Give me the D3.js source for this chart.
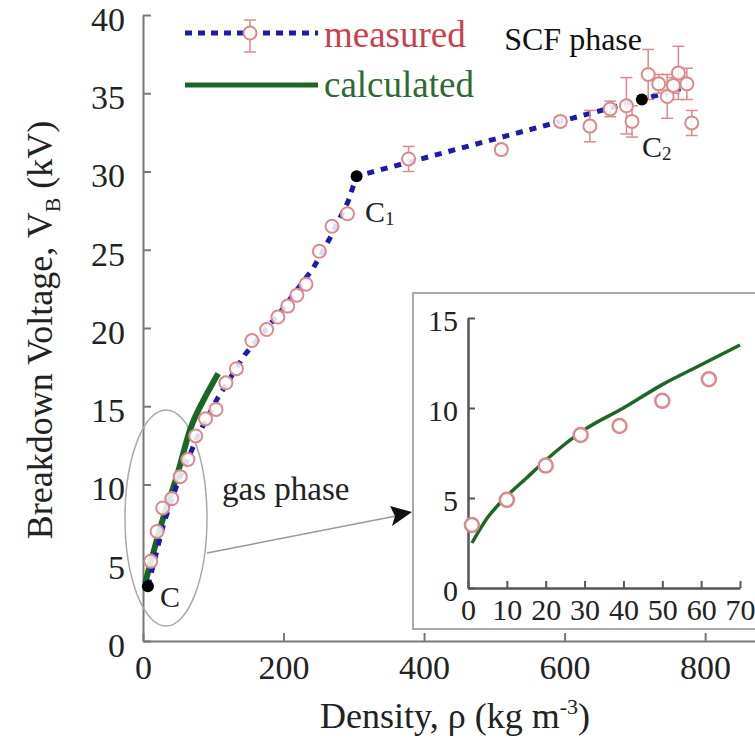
<!DOCTYPE html>
<html><head><meta charset="utf-8">
<script src="https://cdn.jsdelivr.net/npm/d3@7"></script>
<style>
@font-face{font-family:"RefSerif";src:local("Liberation Serif"),local("LiberationSerif-Regular"),local("Tinos"),local("Times New Roman");}
body{margin:0;background:#fff}
</style>
</head><body>
<svg id="c" width="755" height="755"></svg>
<script>
// ---- data ----
const xTicks = [0, 200, 400, 600, 800];
const yTicks = [0, 5, 10, 15, 20, 25, 30, 35, 40];
const measRho = [11,20,28,41,53,64,75,89,104,118,133,155,176,192,206,219,232,251,269,291,378,510,594,636,665,688,696,719,734,746,755,762,774,781];
const measVB  = [5.1,7.0,8.5,9.1,10.5,11.6,13.1,14.2,14.8,16.5,17.4,19.2,19.9,20.7,21.4,22.1,22.8,24.9,26.5,27.3,30.8,31.4,33.2,32.9,34.0,34.2,33.2,36.2,35.6,34.8,35.5,36.3,35.6,33.1];
const measErr = [0,0,0,0,0,0,0,0,0,0,0,0,0,0,0,0,0,0,0,0,0.8,0.3,0.3,1.0,0.5,1.8,1.0,1.6,0.6,1.4,0.5,1.7,1.0,0.8];
const fitRho = [7,30,50,80,106,145,195,242,268,292,304,710,765];
const fitVB  = [3.5,7.6,10.2,13.3,15.5,18.3,21.0,23.8,25.9,28.1,29.7,34.6,35.3];
const calcRho = [3,29,48,67,91,107];
const calcVB  = [3.7,7.9,10.5,13.5,15.8,17.1];
const critRho = [7,304,710];
const critVB  = [3.5,29.7,34.6];
const critLbl = ["C","C","C"];
const critSub = ["","1","2"];
// inset
const inXTicks = [0,10,20,30,40,50,60,70];
const inYTicks = [0,5,10,15];
const inMeasX = [1,10,20,29,39,50,62];
const inMeasY = [3.5,4.9,6.8,8.5,9.0,10.4,11.6];
const inCalcX = [1,5,10,15,20,30,40,50,60,70];
const inCalcY = [2.5,3.9,5.1,6.1,7.1,8.8,10.0,11.3,12.4,13.5];

const FONT = "'Liberation Serif', RefSerif, monospace";
const svg = d3.select("#c");
const AX = "#777", RED = "#d98a8e", BLUE = "#1c1ca8", GREEN = "#1e6626";

const x = d3.scaleLinear().domain([0, 871]).range([143, 755]);
const y = d3.scaleLinear().domain([0, 40]).range([641, 15]);

function styleAxis(g, col, w, fs) {
  g.attr("font-family", null).attr("font-size", null);
  g.select(".domain").attr("stroke", col).attr("stroke-width", w);
  g.selectAll(".tick line").attr("stroke", col).attr("stroke-width", 2);
  g.selectAll(".tick text").attr("fill", "#222").style("font-family", FONT).style("font-size", fs + "px");
}

// axes
const gx = svg.append("g").attr("transform", "translate(0,641)")
  .call(d3.axisBottom(x).tickValues(xTicks).tickSizeInner(-8).tickSizeOuter(0).tickPadding(14));
const gy = svg.append("g").attr("transform", "translate(143,0)")
  .call(d3.axisLeft(y).tickValues(yTicks).tickSizeInner(-8).tickSizeOuter(0).tickPadding(18));
styleAxis(gx, AX, 2, 34);
styleAxis(gy, AX, 2, 34);
gy.selectAll(".tick text").attr("dy", "0.45em");

function T(xp, yp, fs, fill) {
  return svg.append("text").attr("x", xp).attr("y", yp).style("font-family", FONT).style("font-size", fs + "px").attr("fill", fill);
}

// axis titles
svg.append("text").attr("transform", "translate(52,330) rotate(-90)").attr("text-anchor", "middle")
  .style("font-family", FONT).style("font-size", "36px").attr("fill", "#222")
  .html('Breakdown Voltage, V<tspan dy="8" style="font-size:22px">B</tspan><tspan dy="-8"> (kV)</tspan>');
T(455, 728, 36, "#222").attr("text-anchor", "middle")
  .html('Density, ρ (kg m<tspan dy="-14" style="font-size:22px">-3</tspan><tspan dy="14">)</tspan>');

// ellipse + arrow
svg.append("ellipse").attr("cx", 166).attr("cy", 518).attr("rx", 41).attr("ry", 108)
  .attr("fill", "none").attr("stroke", "#aaa").attr("stroke-width", 1.5);
svg.append("line").attr("x1", 207).attr("y1", 553).attr("x2", 396).attr("y2", 516)
  .attr("stroke", "#999").attr("stroke-width", 1.5);
svg.append("path").attr("d", "M412,512 L390,506 L395,516 L392,526 Z").attr("fill", "#111");
T(222, 500, 33, "#222").text("gas phase");

// calculated line (main)
const calcPts = calcRho.map((r, i) => [x(r), y(calcVB[i])]);
svg.append("path").attr("d", d3.line().curve(d3.curveMonotoneX)(calcPts))
  .attr("fill", "none").attr("stroke", GREEN).attr("stroke-width", 6);

// fit dashed line
const fitPts = fitRho.map((r, i) => [x(r), y(fitVB[i])]);
svg.append("path").attr("d", d3.line().curve(d3.curveLinear)(fitPts))
  .attr("fill", "none").attr("stroke", BLUE).attr("stroke-width", 5).attr("stroke-dasharray", "7 7");

// error bars
const eg = svg.append("g");
measRho.forEach((r, i) => {
  if (!measErr[i]) return;
  const cx = x(r), y1 = y(measVB[i] - measErr[i]), y2 = y(measVB[i] + measErr[i]);
  eg.append("line").attr("x1", cx).attr("x2", cx).attr("y1", y1).attr("y2", y2).attr("stroke", RED).attr("stroke-width", 1.5);
  [y1, y2].forEach(yy => eg.append("line").attr("x1", cx - 6).attr("x2", cx + 6).attr("y1", yy).attr("y2", yy).attr("stroke", RED).attr("stroke-width", 1.5));
});
// measured markers
svg.append("g").selectAll("circle").data(measRho).join("circle")
  .attr("cx", d => x(d)).attr("cy", (d, i) => y(measVB[i])).attr("r", 6.5)
  .attr("fill", "#fff").attr("fill-opacity", 0.85).attr("stroke", RED).attr("stroke-width", 2);

// critical points
svg.append("g").selectAll("circle").data(critRho).join("circle")
  .attr("cx", d => x(d)).attr("cy", (d, i) => y(critVB[i])).attr("r", 6).attr("fill", "#000");
const lblPos = [[160, 607], [365, 222], [642, 157]];
critLbl.forEach((l, i) => {
  T(lblPos[i][0], lblPos[i][1], 30, "#222")
    .html(l + (critSub[i] ? '<tspan style="font-size:19px" dy="3">' + critSub[i] + '</tspan>' : ''));
});
T(642, 50, 32, "#111").attr("text-anchor", "end").text("SCF phase");

// legend
svg.append("line").attr("x1", 185).attr("x2", 318).attr("y1", 33).attr("y2", 33)
  .attr("stroke", BLUE).attr("stroke-width", 5).attr("stroke-dasharray", "7 6");
svg.append("line").attr("x1", 250).attr("x2", 250).attr("y1", 20).attr("y2", 52).attr("stroke", RED).attr("stroke-width", 1.5);
[20, 52].forEach(yy => svg.append("line").attr("x1", 244).attr("x2", 256).attr("y1", yy).attr("y2", yy).attr("stroke", RED).attr("stroke-width", 1.5));
svg.append("circle").attr("cx", 250).attr("cy", 33).attr("r", 6.5).attr("fill", "#fff").attr("stroke", RED).attr("stroke-width", 2);
T(324, 47, 37, "#c8414d").text("measured");
svg.append("line").attr("x1", 185).attr("x2", 318).attr("y1", 85).attr("y2", 85).attr("stroke", GREEN).attr("stroke-width", 5);
T(324, 97, 37, "#2d6a33").text("calculated");

// inset
svg.append("rect").attr("x", 413).attr("y", 293).attr("width", 360).attr("height", 336)
  .attr("fill", "#fff").attr("stroke", "#aaa").attr("stroke-width", 2);
const ix = d3.scaleLinear().domain([0, 70]).range([468, 740]);
const iy = d3.scaleLinear().domain([0, 15]).range([588, 318]);
const igx = svg.append("g").attr("transform", "translate(0,588)")
  .call(d3.axisBottom(ix).tickValues(inXTicks).tickSizeInner(-7).tickSizeOuter(0).tickPadding(11));
const igy = svg.append("g").attr("transform", "translate(468,0)")
  .call(d3.axisLeft(iy).tickValues(inYTicks).tickSizeInner(-7).tickSizeOuter(0).tickPadding(10));
styleAxis(igx, "#555", 2.5, 30);
styleAxis(igy, "#555", 2.5, 30);
igy.selectAll(".tick text").attr("dy", "0.4em");
const inCalcPts = inCalcX.map((v, i) => [ix(v), iy(inCalcY[i])]);
svg.append("path").attr("d", d3.line().curve(d3.curveMonotoneX)(inCalcPts))
  .attr("fill", "none").attr("stroke", GREEN).attr("stroke-width", 3.5);
svg.append("g").selectAll("circle").data(inMeasX).join("circle")
  .attr("cx", d => ix(d)).attr("cy", (d, i) => iy(inMeasY[i])).attr("r", 7)
  .attr("fill", "#fff").attr("stroke", RED).attr("stroke-width", 2.5);
</script>
</body></html>
